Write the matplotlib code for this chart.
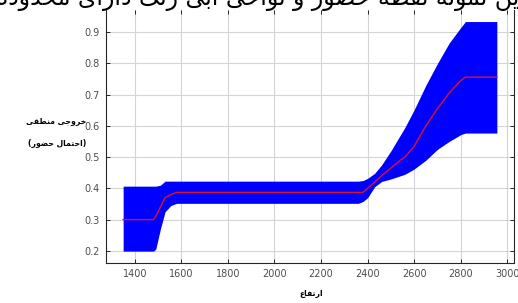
import matplotlib
matplotlib.use("Agg")
import matplotlib.pyplot as plt

# elevation (x) and model output: mean line plus upper / lower band
elevation = [1350, 1480, 1490, 1510, 1530, 1555, 1580, 2360, 2380, 2400, 2430,
             2460, 2500, 2540, 2560, 2600, 2650, 2700, 2750, 2800, 2820, 2955]
mean_out = [0.300, 0.300, 0.310, 0.340, 0.370, 0.380, 0.387, 0.387, 0.387, 0.400, 0.420,
            0.440, 0.465, 0.490, 0.500, 0.535, 0.600, 0.655, 0.705, 0.745, 0.756, 0.756]
upper_out = [0.407, 0.407, 0.407, 0.410, 0.423, 0.423, 0.423, 0.423, 0.425, 0.432, 0.448,
             0.475, 0.520, 0.570, 0.595, 0.652, 0.730, 0.800, 0.865, 0.915, 0.934, 0.934]
lower_out = [0.199, 0.199, 0.205, 0.270, 0.325, 0.345, 0.352, 0.352, 0.358, 0.370, 0.405,
             0.422, 0.430, 0.440, 0.445, 0.462, 0.490, 0.525, 0.550, 0.572, 0.577, 0.577]

x_ticks = [1400, 1600, 1800, 2000, 2200, 2400, 2600, 2800, 3000]
y_ticks = [0.2, 0.3, 0.4, 0.5, 0.6, 0.7, 0.8, 0.9]

title_text = "این نمونه نقطه حضور و نواحی آبی رنگ دارای محدوده عدم قطعیت"
ylabel_1 = "خروجی منطقی"
ylabel_2 = "(احتمال حضور)"
xlabel_text = "ارتفاع"

# presentation forms: isolated, final, initial, medial (right-joining letters have only 2)
FORMS = {
    "ا": (0xFE8D, 0xFE8E), "آ": (0xFE81, 0xFE82), "د": (0xFEA9, 0xFEAA),
    "ذ": (0xFEAB, 0xFEAC), "ر": (0xFEAD, 0xFEAE), "ز": (0xFEAF, 0xFEB0),
    "و": (0xFEED, 0xFEEE), "ژ": (0xFB8A, 0xFB8B),
    "ب": (0xFE8F, 0xFE90, 0xFE91, 0xFE92), "ت": (0xFE95, 0xFE96, 0xFE97, 0xFE98),
    "ث": (0xFE99, 0xFE9A, 0xFE9B, 0xFE9C), "ج": (0xFE9D, 0xFE9E, 0xFE9F, 0xFEA0),
    "ح": (0xFEA1, 0xFEA2, 0xFEA3, 0xFEA4), "خ": (0xFEA5, 0xFEA6, 0xFEA7, 0xFEA8),
    "س": (0xFEB1, 0xFEB2, 0xFEB3, 0xFEB4), "ش": (0xFEB5, 0xFEB6, 0xFEB7, 0xFEB8),
    "ص": (0xFEB9, 0xFEBA, 0xFEBB, 0xFEBC), "ض": (0xFEBD, 0xFEBE, 0xFEBF, 0xFEC0),
    "ط": (0xFEC1, 0xFEC2, 0xFEC3, 0xFEC4), "ظ": (0xFEC5, 0xFEC6, 0xFEC7, 0xFEC8),
    "ع": (0xFEC9, 0xFECA, 0xFECB, 0xFECC), "غ": (0xFECD, 0xFECE, 0xFECF, 0xFED0),
    "ف": (0xFED1, 0xFED2, 0xFED3, 0xFED4), "ق": (0xFED5, 0xFED6, 0xFED7, 0xFED8),
    "ل": (0xFEDD, 0xFEDE, 0xFEDF, 0xFEE0), "م": (0xFEE1, 0xFEE2, 0xFEE3, 0xFEE4),
    "ن": (0xFEE5, 0xFEE6, 0xFEE7, 0xFEE8), "ه": (0xFEE9, 0xFEEA, 0xFEEB, 0xFEEC),
    "ی": (0xFBFC, 0xFBFD, 0xFBFE, 0xFBFF), "گ": (0xFB92, 0xFB93, 0xFB94, 0xFB95),
    "ک": (0xFB8E, 0xFB8F, 0xFB90, 0xFB91), "پ": (0xFB56, 0xFB57, 0xFB58, 0xFB59),
    "چ": (0xFB7A, 0xFB7B, 0xFB7C, 0xFB7D),
}


def rtl(s):
    # join arabic letters, then put them in visual (left-to-right) order
    out = []
    for i, ch in enumerate(s):
        if ch not in FORMS:
            out.append(ch)
            continue
        prev = s[i - 1] if i > 0 else ""
        nxt = s[i + 1] if i + 1 < len(s) else ""
        join_prev = prev in FORMS and len(FORMS[prev]) == 4
        join_next = len(FORMS[ch]) == 4 and nxt in FORMS
        f = FORMS[ch]
        if join_prev and join_next:
            out.append(chr(f[3]))
        elif join_prev:
            out.append(chr(f[1]))
        elif join_next:
            out.append(chr(f[2]))
        else:
            out.append(chr(f[0]))
    vis = "".join(reversed(out))
    return vis.translate(str.maketrans("()", ")("))


fig = plt.figure(figsize=(5.18, 3.03), dpi=100, facecolor="white")
ax = fig.add_axes([0.204, 0.131, 0.788, 0.836])

ax.fill_between(elevation, lower_out, upper_out, color="#0000ff", linewidth=0, zorder=2)
ax.plot(elevation, mean_out, color="#e0102a", linewidth=1.0, zorder=3)

ax.set_xlim(1275, 3028)
ax.set_ylim(0.16, 0.971)
ax.set_xticks(x_ticks)
ax.set_yticks(y_ticks)
ax.set_xticklabels([str(t) for t in x_ticks])
ax.set_yticklabels(["%.1f" % t for t in y_ticks])
ax.grid(True, color="#d4d4d4", linewidth=0.8, zorder=0)
ax.set_axisbelow(True)

ax.tick_params(direction="in", length=3, width=0.7, colors="#262626",
               labelcolor="#4d4d4d", labelsize=7, top=True, right=True, pad=4)
ax.spines["top"].set_visible(False)
for side in ["left", "right", "bottom"]:
    ax.spines[side].set_color("#262626")
    ax.spines[side].set_linewidth(0.8)

fig.text(526 / 518, 1 - 5 / 303, rtl(title_text), ha="right", va="baseline",
         fontsize=17, family=["DejaVu Sans"], color="black")
fig.text(56 / 518, 1 - 122 / 303, rtl(ylabel_1), ha="center", va="center",
         fontsize=5.5, fontweight="bold", family=["DejaVu Sans"])
fig.text(57 / 518, 1 - 143 / 303, rtl(ylabel_2), ha="center", va="center",
         fontsize=5.5, fontweight="bold", family=["DejaVu Sans"])
fig.text(311 / 518, 1 - 293 / 303, rtl(xlabel_text), ha="center", va="center",
         fontsize=5.5, fontweight="bold", family=["DejaVu Sans"])

fig.savefig("out.png", dpi=100, facecolor="white")
